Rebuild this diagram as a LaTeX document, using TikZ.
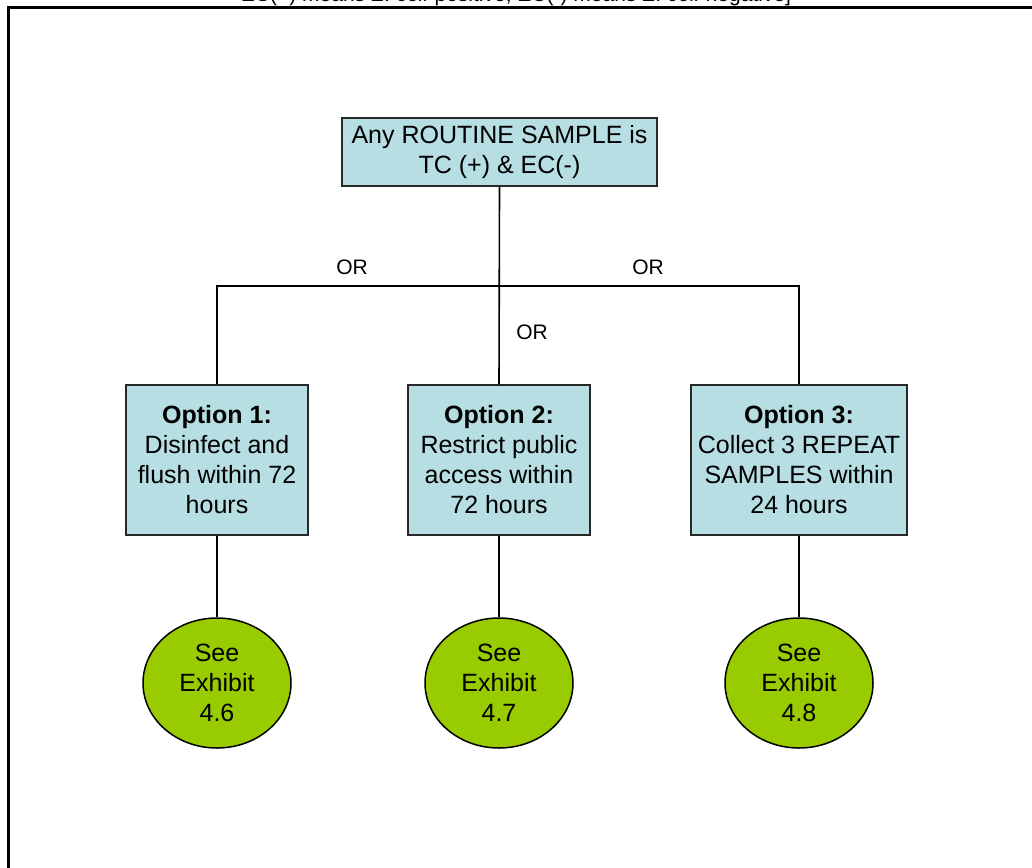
\documentclass[tikz,border=0pt]{standalone}
\usepackage{fontspec}
\setmainfont{Liberation Sans}
\usetikzlibrary{shapes.geometric}
\definecolor{boxblue}{RGB}{183,222,226}
\definecolor{exgreen}{RGB}{153,204,0}
\definecolor{edgegray}{RGB}{40,40,40}
\tikzset{
  txt/.style={font=\fontsize{25}{30}\selectfont, align=center, inner sep=0pt},
  optbox/.style={txt, draw=edgegray, line width=2pt, fill=boxblue, minimum height=150pt},
  topbox/.style={txt, draw=edgegray, line width=2pt, fill=boxblue, minimum width=315pt, minimum height=68pt},
  exhibit/.style={txt, ellipse, draw=black, line width=1.5pt, fill=exgreen, minimum width=148pt, minimum height=130pt},
  link/.style={line width=1.6pt, black},
  orlabel/.style={font=\fontsize{21}{25}\selectfont, inner sep=0pt}
}
\begin{document}
\begin{tikzpicture}[x=1pt,y=-1pt]
\useasboundingbox (0,0) rectangle (1032,867);
\begin{scope}
  \clip (0,0) rectangle (1032,867);
  % caption line running above the frame
  \node[font=\fontsize{21}{25}\selectfont, anchor=base, inner sep=0pt] (caption) at (516,2)
    {EC(+) means \textit{E. coli} positive; EC(-) means \textit{E. coli} negative]};
  % outer frame
  \draw[line width=3pt] (8,880) -- (8,8) -- (1045,8);
\end{scope}

\node[topbox] (top) at (499.5,152) {Any ROUTINE SAMPLE is\\TC (+) \& EC(-)};

\node[optbox, minimum width=182pt] (opt1) at (217,460)
  {\textbf{Option 1:}\\Disinfect and\\flush within 72\\hours};
\node[optbox, minimum width=182pt] (opt2) at (499,460)
  {\textbf{Option 2:}\\Restrict public\\access within\\72 hours};
\node[optbox, minimum width=216pt] (opt3) at (799,460)
  {\textbf{Option 3:}\\Collect 3 REPEAT\\SAMPLES within\\24 hours};

\node[exhibit] (ex1) at (217,683) {See\\Exhibit\\4.6};
\node[exhibit] (ex2) at (499,683) {See\\Exhibit\\4.7};
\node[exhibit] (ex3) at (799,683) {See\\Exhibit\\4.8};

\coordinate (bar) at (499,286);
\draw[link] (top.south) -- (opt2.north);
\draw[link] (opt1.north) |- (bar) -| (opt3.north);
\draw[link] (opt1.south) -- (ex1.north);
\draw[link] (opt2.south) -- (ex2.north);
\draw[link] (opt3.south) -- (ex3.north);

\node[orlabel] (orl) at (352,267) {OR};
\node[orlabel] (orr) at (648,267) {OR};
\node[orlabel] (orm) at (532,332) {OR};
\end{tikzpicture}
\end{document}
